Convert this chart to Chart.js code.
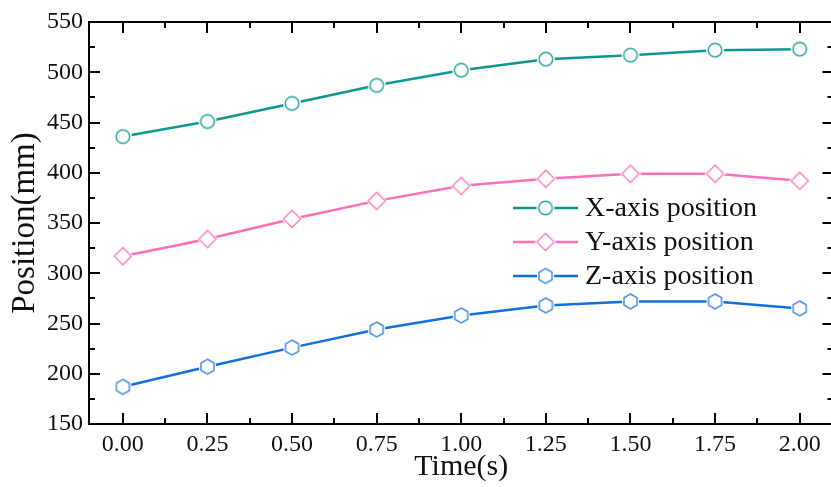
<!DOCTYPE html>
<html>
<head>
<meta charset="utf-8">
<script src="https://cdn.jsdelivr.net/npm/chart.js@4.4.1/dist/chart.umd.min.js"></script>
<style>
html,body{margin:0;padding:0;background:#fff;overflow:hidden;}
#wrap{width:844px;height:487px;}
</style>
</head>
<body>
<div id="wrap"><canvas id="c" width="844" height="487"></canvas></div>
<script>
// ---- data ----
const times = [0, 0.25, 0.5, 0.75, 1.0, 1.25, 1.5, 1.75, 2.0];
const xAxisPosition = [436, 451, 469, 487, 502, 513, 517, 522, 523];
const yAxisPosition = [317, 334, 354, 372, 387, 394, 399, 399, 392];
const zAxisPosition = [187, 207, 226, 244, 258, 268, 272, 272, 265];
const seriesNames = ['X-axis position', 'Y-axis position', 'Z-axis position'];
const xTickValues = [0, 0.25, 0.5, 0.75, 1.0, 1.25, 1.5, 1.75, 2.0];
const yTickValues = [150, 200, 250, 300, 350, 400, 450, 500, 550];

const FONT = "'Liberation Serif', 'Times New Roman', serif";

function shapePath(ctx, shape, cx, cy, r) {
  ctx.beginPath();
  if (shape === 'circle') {
    ctx.arc(cx, cy, r, 0, Math.PI * 2);
  } else if (shape === 'diamond') {
    ctx.moveTo(cx, cy - r); ctx.lineTo(cx + r, cy); ctx.lineTo(cx, cy + r); ctx.lineTo(cx - r, cy);
    ctx.closePath();
  } else if (shape === 'hexagon') {
    for (let i = 0; i < 6; i++) {
      const a = -Math.PI / 2 + i * Math.PI / 3;
      const px = cx + r * Math.cos(a), py = cy + r * Math.sin(a);
      if (i === 0) ctx.moveTo(px, py); else ctx.lineTo(px, py);
    }
    ctx.closePath();
  }
}
function makeMarker(shape, color, r) {
  const size = Math.ceil(2 * (r + 4));
  const cv = document.createElement('canvas');
  cv.width = size; cv.height = size;
  const ctx = cv.getContext('2d');
  const c = size / 2;
  shapePath(ctx, shape, c, c, r + 2.2);
  ctx.fillStyle = '#fff'; ctx.fill();
  shapePath(ctx, shape, c, c, r);
  ctx.fillStyle = '#fff'; ctx.fill();
  ctx.lineWidth = 1.5; ctx.strokeStyle = color; ctx.stroke();
  return cv;
}

const lineColors = ['#0f978e', '#ff6eb6', '#1270dc'];
const markerColors = ['#2aa79f', '#ff8ac4', '#4a90ea'];
const markers = [
  makeMarker('circle', markerColors[0], 6.8),
  makeMarker('diamond', markerColors[1], 8.6),
  makeMarker('hexagon', markerColors[2], 7.5)
];
const seriesValues = [xAxisPosition, yAxisPosition, zAxisPosition];

const datasets = seriesValues.map((vals, i) => ({
  label: seriesNames[i],
  data: times.map((t, k) => ({x: t, y: vals[k]})),
  borderColor: lineColors[i],
  backgroundColor: lineColors[i],
  borderWidth: 2.5,
  pointStyle: markers[i],
  pointRadius: 8,
  pointHoverRadius: 8,
  tension: 0
}));

const framePlugin = {
  id: 'frame',
  afterDatasetsDraw(chart) {
    const {ctx, chartArea: a, scales} = chart;
    const xs = scales.x, ys = scales.y;
    ctx.save();
    ctx.strokeStyle = '#000';
    ctx.lineWidth = 2;
    ctx.strokeRect(a.left, a.top, a.right - a.left, a.bottom - a.top);
    const major = 11, minor = 6;
    ctx.lineWidth = 2;
    ctx.beginPath();
    for (let v = 0; v <= 2.0001; v += 0.125) {
      const px = Math.round(xs.getPixelForValue(v));
      const isMaj = Math.abs(v / 0.25 - Math.round(v / 0.25)) < 1e-6;
      const L = isMaj ? major : minor;
      ctx.moveTo(px, a.bottom); ctx.lineTo(px, a.bottom - L);
      ctx.moveTo(px, a.top); ctx.lineTo(px, a.top + L);
    }
    for (let v = 150; v <= 550; v += 25) {
      const py = Math.round(ys.getPixelForValue(v));
      const L = (v % 50 === 0) ? major : minor;
      ctx.moveTo(a.left, py); ctx.lineTo(a.left + L, py);
      ctx.moveTo(a.right, py); ctx.lineTo(a.right - L, py);
    }
    ctx.stroke();
    ctx.restore();
  }
};

const legendPlugin = {
  id: 'customLegend',
  afterDraw(chart) {
    const ctx = chart.ctx;
    ctx.save();
    const rows = [208, 242, 276];
    chart.data.datasets.forEach((ds, i) => {
      const y = rows[i];
      ctx.strokeStyle = ds.borderColor;
      ctx.lineWidth = 2.5;
      ctx.beginPath(); ctx.moveTo(513, y); ctx.lineTo(578, y); ctx.stroke();
      const img = ds.pointStyle;
      ctx.drawImage(img, 545.5 - img.width / 2, y - img.height / 2);
      ctx.fillStyle = '#111';
      ctx.font = "28px " + FONT;
      ctx.textBaseline = 'middle';
      ctx.textAlign = 'left';
      ctx.fillText(ds.label, 585, y + 1);
    });
    ctx.restore();
  }
};

new Chart(document.getElementById('c'), {
  type: 'line',
  data: {datasets},
  plugins: [framePlugin, legendPlugin],
  options: {
    responsive: false,
    animation: false,
    layout: {padding: {top: 22, right: 3, left: 0, bottom: 0}},
    plugins: {legend: {display: false}, tooltip: {enabled: false}},
    scales: {
      x: {
        type: 'linear', min: -0.1, max: 2.1,
        afterBuildTicks(s) { s.ticks = xTickValues.map(v => ({value: v})); },
        afterFit(s) { s.height = 63; },
        grid: {display: false, drawTicks: false},
        border: {display: false},
        ticks: {
          color: '#111', padding: 6, maxRotation: 0, autoSkip: false,
          font: {family: FONT, size: 24},
          callback: v => Number(v).toFixed(2)
        },
        title: {display: true, text: 'Time(s)', color: '#111', padding: {top: 0, bottom: 2},
          font: {family: FONT, size: 30}}
      },
      y: {
        type: 'linear', min: 150, max: 550,
        afterBuildTicks(s) { s.ticks = yTickValues.map(v => ({value: v})); },
        afterFit(s) { s.width = 89; },
        grid: {display: false, drawTicks: false},
        border: {display: false},
        ticks: {color: '#111', padding: 6, font: {family: FONT, size: 24}},
        title: {display: true, text: 'Position(mm)', color: '#111', padding: {top: 6, bottom: 0},
          font: {family: FONT, size: 33}}
      }
    }
  }
});
</script>
</body>
</html>
